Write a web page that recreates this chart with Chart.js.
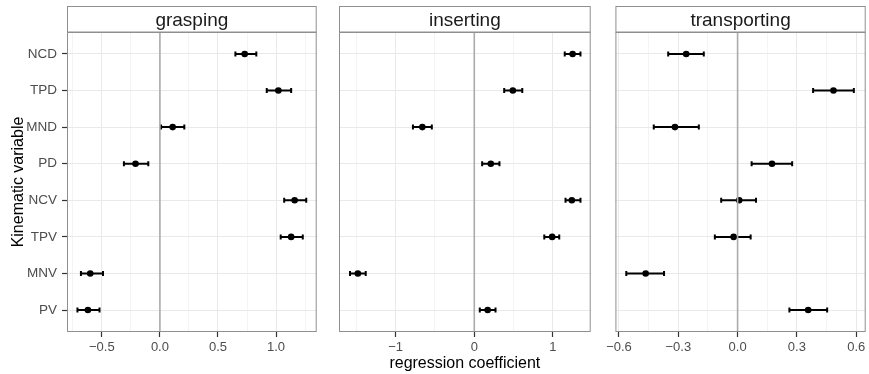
<!DOCTYPE html>
<html><head><meta charset="utf-8">
<script src="https://cdn.jsdelivr.net/npm/chart.js@4.4.1/dist/chart.umd.min.js"></script>
<style>
html,body{margin:0;padding:0;background:#fff;}
body{width:869px;height:374px;position:relative;overflow:hidden;}
canvas{position:absolute;top:0;}
</style></head><body>
<canvas id="c1" width="320" height="374" style="left:0px"></canvas>
<canvas id="c2" width="264" height="374" style="left:330px"></canvas>
<canvas id="c3" width="266" height="374" style="left:603px"></canvas>
<script>
// ---- data ----
const categories = ['NCD','TPD','MND','PD','NCV','TPV','MNV','PV']; // top to bottom
const panels = ['grasping','inserting','transporting'];

const graspEst = [0.73, 1.02, 0.11, -0.21, 1.16, 1.13, -0.60, -0.62];
const graspLo  = [0.65, 0.92, 0.01, -0.31, 1.07, 1.04, -0.68, -0.71];
const graspHi  = [0.83, 1.13, 0.21, -0.10, 1.26, 1.23, -0.49, -0.52];

const insertEst = [1.25, 0.49, -0.66, 0.21, 1.24, 0.99, -1.48, 0.17];
const insertLo  = [1.15, 0.38, -0.78, 0.10, 1.16, 0.89, -1.58, 0.07];
const insertHi  = [1.35, 0.61, -0.54, 0.32, 1.35, 1.08, -1.38, 0.27];

const transEst = [-0.26, 0.485, -0.317, 0.174, 0.008, -0.02, -0.465, 0.357];
const transLo  = [-0.351, 0.382, -0.424, 0.071, -0.083, -0.115, -0.563, 0.262];
const transHi  = [-0.171, 0.588, -0.196, 0.276, 0.093, 0.066, -0.372, 0.453];

const graspTicks  = [-0.5, 0, 0.5, 1.0];
const graspLabels = ['\u22120.5', '0.0', '0.5', '1.0'];
const insertTicks  = [-1, 0, 1];
const insertLabels = ['\u22121', '0', '1'];
const transTicks  = [-0.6, -0.3, 0, 0.3, 0.6];
const transLabels = ['\u22120.6', '\u22120.3', '0.0', '0.3', '0.6'];

const graspLimits  = [-0.80, 1.35];
const insertLimits = [-1.72, 1.48];
const transLimits  = [-0.618, 0.648];

const yLabel = 'Kinematic variable';
const xLabel = 'regression coefficient';

// ---- rendering ----
const FONT = "'Liberation Sans', Arial, Helvetica, sans-serif";
const BORDER = '#8f8f8f';
const GRID_MAJOR = '#e9e9e9';
const GRID_MINOR = '#f4f4f4';

const facetPlugin = {
  id: 'facet',
  beforeDatasetsDraw(chart) {
    const o = chart.options.plugins.facet;
    const ctx = chart.ctx, xs = chart.scales.x, ys = chart.scales.y;
    ctx.save();
    ctx.strokeStyle = '#000';
    ctx.lineWidth = 2;
    o.lo.forEach((lo, i) => {
      const y = ys.getPixelForValue(categories.length - i);
      const x1 = xs.getPixelForValue(lo), x2 = xs.getPixelForValue(o.hi[i]);
      ctx.beginPath();
      ctx.moveTo(x1, y); ctx.lineTo(x2, y);
      ctx.moveTo(x1, y - 2.5); ctx.lineTo(x1, y + 2.5);
      ctx.moveTo(x2, y - 2.5); ctx.lineTo(x2, y + 2.5);
      ctx.stroke();
    });
    ctx.restore();
  },
  afterDatasetsDraw(chart) {
    const ctx = chart.ctx, xs = chart.scales.x, a = chart.chartArea;
    ctx.save();
    ctx.strokeStyle = '#ababab';
    ctx.lineWidth = 1.6;
    const x0 = xs.getPixelForValue(0);
    ctx.beginPath(); ctx.moveTo(x0, a.top); ctx.lineTo(x0, a.bottom); ctx.stroke();
    ctx.restore();
  },
  afterDraw(chart) {
    const o = chart.options.plugins.facet;
    const ctx = chart.ctx, a = chart.chartArea;
    ctx.save();
    ctx.strokeStyle = BORDER;
    ctx.lineWidth = 1;
    ctx.strokeRect(a.left + 0.5, a.top + 0.5, a.right - a.left - 1, a.bottom - a.top - 1);
    ctx.fillStyle = '#ffffff';
    ctx.fillRect(a.left + 0.5, 6.5, a.right - a.left - 1, a.top - 6.5);
    ctx.strokeRect(a.left + 0.5, 6.5, a.right - a.left - 1, a.top - 6.5);
    ctx.fillStyle = '#1a1a1a';
    ctx.font = '19px ' + FONT;
    ctx.textAlign = 'center';
    ctx.textBaseline = 'alphabetic';
    ctx.fillText(o.title, (a.left + a.right) / 2, 25.5);
    ctx.restore();
  }
};

function minorsFor(majors, lim) {
  const step = majors[1] - majors[0];
  const out = [];
  for (let v = majors[0] - step / 2; v <= lim[1] + 1e-9; v += step) {
    if (v >= lim[0] - 1e-9) out.push(Math.round(v * 1000) / 1000);
  }
  return out;
}

function makeChart(id, title, est, lo, hi, majors, labels, lim, opts) {
  const minors = minorsFor(majors, lim);
  const isMajor = v => majors.some(m => Math.abs(m - v) < 1e-9);
  const points = est.map((v, i) => ({ x: v, y: categories.length - i }));
  return new Chart(document.getElementById(id), {
    type: 'scatter',
    data: { datasets: [{ data: points, backgroundColor: '#000', borderWidth: 0, pointRadius: 3.3, pointHoverRadius: 3.3 }] },
    plugins: [facetPlugin],
    options: {
      responsive: false,
      animation: false,
      devicePixelRatio: 1,
      events: [],
      layout: { padding: { top: 32, left: opts.padLeft, right: opts.padRight, bottom: 0 } },
      plugins: {
        legend: { display: false },
        tooltip: { enabled: false },
        facet: { title: title, lo: lo, hi: hi }
      },
      scales: {
        x: {
          type: 'linear',
          min: lim[0], max: lim[1],
          afterBuildTicks: s => { s.ticks = majors.concat(minors).sort((a, b) => a - b).map(v => ({ value: v })); },
          afterFit: s => { s.height = 42; },
          ticks: {
            autoSkip: false, maxRotation: 0, padding: 3,
            color: '#4d4d4d',
            font: { family: FONT, size: 13 },
            callback: v => { const k = majors.findIndex(m => Math.abs(m - v) < 1e-9); return k >= 0 ? labels[k] : ''; }
          },
          grid: {
            color: c => (c.tick && isMajor(c.tick.value)) ? GRID_MAJOR : GRID_MINOR,
            lineWidth: 1,
            drawTicks: true, tickLength: 5, tickWidth: 1.2,
            tickColor: c => (c.tick && isMajor(c.tick.value)) ? '#333333' : 'rgba(0,0,0,0)'
          },
          border: { display: false },
          title: {
            display: !!opts.xTitle, text: xLabel, color: '#000',
            font: { family: FONT, size: 16 }, padding: { top: 0, bottom: 1 }
          }
        },
        y: {
          type: 'linear',
          min: 0.4, max: categories.length + 0.6,
          afterBuildTicks: s => { s.ticks = categories.map((c, i) => ({ value: categories.length - i })); },
          afterFit: s => { s.width = opts.yWidth; },
          ticks: {
            display: opts.showY, autoSkip: false, padding: 5,
            color: '#4d4d4d',
            font: { family: FONT, size: 13.5 },
            callback: v => categories[categories.length - Math.round(v)]
          },
          grid: {
            color: GRID_MAJOR, lineWidth: 1,
            drawTicks: opts.showY, tickLength: 5, tickWidth: 1.2, tickColor: '#333333'
          },
          border: { display: false },
          title: {
            display: opts.showY, text: yLabel, color: '#000',
            font: { family: FONT, size: 16 }, padding: { top: 8.5, bottom: 0 }
          }
        }
      }
    }
  });
}

makeChart('c1', panels[0], graspEst, graspLo, graspHi, graspTicks, graspLabels, graspLimits,
  { padLeft: 0, padRight: 1, yWidth: 67, showY: true, xTitle: false });
makeChart('c2', panels[1], insertEst, insertLo, insertHi, insertTicks, insertLabels, insertLimits,
  { padLeft: 9, padRight: 2, yWidth: 0, showY: false, xTitle: true });
makeChart('c3', panels[2], transEst, transLo, transHi, transTicks, transLabels, transLimits,
  { padLeft: 10, padRight: 2, yWidth: 0, showY: false, xTitle: false });
</script>
</body></html>
